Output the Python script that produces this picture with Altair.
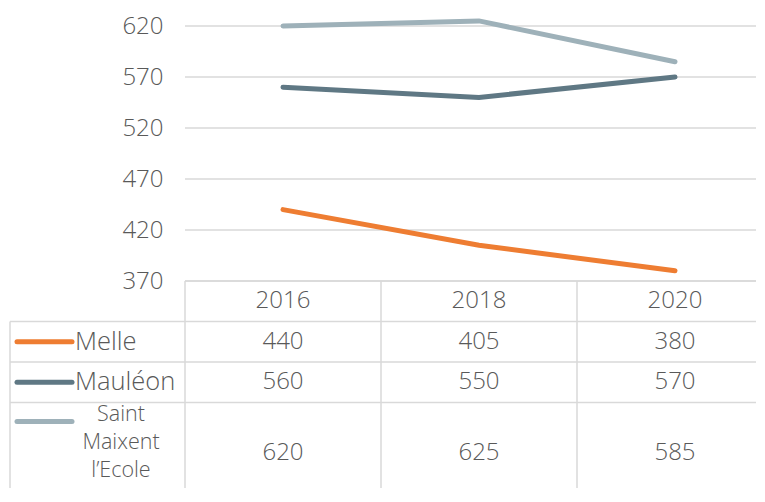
import altair as alt
import pandas as pd

# ---------------- data ----------------
years = [2016, 2018, 2020]
series = ["Melle", "Mauléon", "Saint Maixent l’Ecole"]
melle = [440, 405, 380]
mauleon = [560, 550, 570]
saint_maixent = [620, 625, 585]
y_ticks = [370, 420, 470, 520, 570, 620]
colors = ["#EE7D32", "#5F7884", "#9EB1B9"]

# ---------------- layout ----------------
W, H = 749, 480
PX_PER_YEAR = 98.0
X_2016 = 275.0
X0 = 2016 - X_2016 / PX_PER_YEAR
X1 = X0 + W / PX_PER_YEAR
PLOT_BOTTOM = 273.0          # pixel row of the 370 gridline
PX_PER_UNIT = 1.02
Y_TOP_VAL = 620 + 18 / PX_PER_UNIT
Y_BOT_VAL = 370 - (H - PLOT_BOTTOM) / PX_PER_UNIT
ROW_PX = 40.5
ROW_MIN = -PLOT_BOTTOM / ROW_PX
ROW_MAX = (H - PLOT_BOTTOM) / ROW_PX
TABLE_LEFT = X0 + 2 / PX_PER_YEAR
X_RIGHT = X1 - 0.01
value_rows = [1.5, 2.5, 4.25]
symbol_rows = [1.5, 2.5, 3.47]
label_rows = [1.5, 2.5, 3.32]
HEADER_ROW = 0.5

FONT = "Open Sans"
FS_NUM = 24
FS_LAB = 25.5
FS_WRAP = 21.5
TXT = "#595959"
GRID = "#D9D9D9"

values_by_series = [melle, mauleon, saint_maixent]
df_lines = pd.DataFrame(
    [{"year": y, "value": v, "series": s}
     for s, vals in zip(series, values_by_series) for y, v in zip(years, vals)]
)
df_cells = pd.DataFrame(
    [{"year": y, "value": v, "series": s, "row": r}
     for s, vals, r in zip(series, values_by_series, value_rows) for y, v in zip(years, vals)]
)
df_grid = pd.DataFrame({"tick": y_ticks, "x0": [years[0] - 1] * len(y_ticks), "x1": [X_RIGHT] * len(y_ticks)})
df_header = pd.DataFrame({"year": years, "label": [str(y) for y in years], "row": [HEADER_ROW] * 3})
df_h = pd.DataFrame({
    "row": [0, 1, 2, 3],
    "x0": [years[0] - 1, TABLE_LEFT, TABLE_LEFT, TABLE_LEFT],
    "x1": [X_RIGHT] * 4,
})
df_v = pd.DataFrame({
    "x": [TABLE_LEFT] + [y - 1 for y in years],
    "r0": [1, 0, 0, 0],
    "r1": [ROW_MAX] * 4,
})
df_leg = pd.DataFrame({"series": series, "row": label_rows, "sym": symbol_rows})

xs = alt.Scale(domain=[X0, X1], nice=False, zero=False)
ys = alt.Scale(domain=[Y_BOT_VAL, Y_TOP_VAL], nice=False, zero=False)
rs = alt.Scale(domain=[ROW_MIN, ROW_MAX], nice=False, zero=False, reverse=True)
cs = alt.Scale(domain=series, range=colors)

yaxis = alt.Axis(values=y_ticks, grid=False, ticks=False, tickSize=0, domain=False,
                 labelFont=FONT, labelFontSize=FS_NUM, labelFontWeight=300, labelColor=TXT,
                 labelPadding=23, offset=-178, title=None)

grid = alt.Chart(df_grid).mark_rule(color=GRID, strokeWidth=1.5).encode(
    x=alt.X("x0:Q", scale=xs, axis=None), x2="x1:Q",
    y=alt.Y("tick:Q", scale=ys, axis=yaxis),
)
lines = alt.Chart(df_lines).mark_line(strokeWidth=5, strokeCap="round").encode(
    x=alt.X("year:Q", scale=xs, axis=None),
    y=alt.Y("value:Q", scale=ys, axis=yaxis),
    color=alt.Color("series:N", scale=cs, legend=None),
    detail="series:N",
)
line_group = alt.layer(grid, lines)

hl = alt.Chart(df_h).mark_rule(color=GRID, strokeWidth=1.5).encode(
    x=alt.X("x0:Q", scale=xs, axis=None), x2="x1:Q",
    y=alt.Y("row:Q", scale=rs, axis=None),
)
vl = alt.Chart(df_v).mark_rule(color=GRID, strokeWidth=1.5).encode(
    x=alt.X("x:Q", scale=xs, axis=None),
    y=alt.Y("r0:Q", scale=rs, axis=None), y2="r1:Q",
)
header = alt.Chart(df_header).mark_text(baseline="middle", align="center", fontSize=FS_NUM).encode(
    x=alt.X("year:Q", scale=xs, axis=None),
    y=alt.Y("row:Q", scale=rs, axis=None),
    text="label:N",
)
cells = alt.Chart(df_cells).mark_text(baseline="middle", align="center", fontSize=FS_NUM).encode(
    x=alt.X("year:Q", scale=xs, axis=None),
    y=alt.Y("row:Q", scale=rs, axis=None),
    text="value:Q",
)
sym = alt.Chart(df_leg).mark_rule(strokeWidth=5, strokeCap="round").encode(
    x=alt.value(9), x2=alt.value(64),
    y=alt.Y("sym:Q", scale=rs, axis=None),
    color=alt.Color("series:N", scale=cs, legend=None),
)
lab1 = alt.Chart(df_leg.iloc[:2]).mark_text(baseline="middle", align="left", fontSize=FS_LAB).encode(
    x=alt.value(67),
    y=alt.Y("row:Q", scale=rs, axis=None),
    text="series:N",
)
lab2 = alt.Chart(df_leg.iloc[2:]).mark_text(baseline="middle", align="center", fontSize=FS_WRAP,
                                            lineBreak=" ", lineHeight=28).encode(
    x=alt.value(113),
    y=alt.Y("row:Q", scale=rs, axis=None),
    text="series:N",
)
table_group = alt.layer(hl, vl, header, cells, sym, lab1, lab2)

chart = (
    alt.layer(line_group, table_group)
    .resolve_scale(y="independent")
    .properties(width=W, height=H, padding=0, autosize=alt.AutoSizeParams(type="none"))
    .configure_view(stroke=None)
    .configure_text(font=FONT, fontWeight=300, color=TXT)
)

chart.save("out.html", embed_options={"renderer": "svg", "actions": False})
